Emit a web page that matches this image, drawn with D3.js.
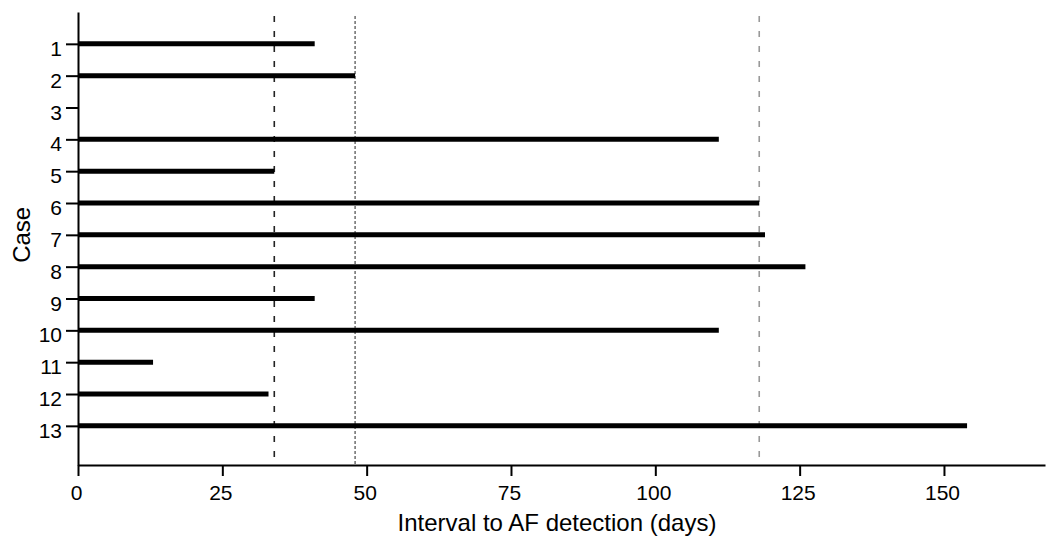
<!DOCTYPE html>
<html>
<head>
<meta charset="utf-8">
<script src="https://cdn.jsdelivr.net/npm/d3@7"></script>
<style>
	body { margin: 0; background: #fff; }
	svg { font-family: "Liberation Sans", Arial, sans-serif; }
</style>
</head>
<body>
<div id="chart"></div>
<script>
// case numbers and interval to AF detection (days)
const cases = [1, 2, 3, 4, 5, 6, 7, 8, 9, 10, 11, 12, 13];
const intervals = [41, 48, 0, 111, 34, 118, 119, 126, 41, 111, 13, 33, 154];
const xTicks = [0, 25, 50, 75, 100, 125, 150];
// reference lines (days)
const refLines = [34, 48, 118];

const width = 1047,
	height = 541;
const margin = { top: 12, right: 2, bottom: 76, left: 78 };

const svg = d3
	.select("#chart")
	.append("svg")
	.attr("width", width)
	.attr("height", height);

const x = d3
	.scaleLinear()
	.domain([0, 167.5])
	.range([margin.left, width - margin.right]);

const y = d3
	.scaleLinear()
	.domain([0, 14.23])
	.range([margin.top, height - margin.bottom]);

const dashStyles = [
	{ color: "#222", dash: "6,9" },
	{ color: "#777", dash: "3,2" },
	{ color: "#999", dash: "6,9" },
];

svg
	.selectAll(".ref")
	.data(refLines)
	.join("line")
	.attr("class", "ref")
	.attr("x1", (d) => x(d))
	.attr("x2", (d) => x(d))
	.attr("y1", 16)
	.attr("y2", y(14.23))
	.attr("stroke", (d, i) => dashStyles[i].color)
	.attr("stroke-width", 1.6)
	.attr("stroke-dasharray", (d, i) => dashStyles[i].dash);

svg
	.selectAll(".bar")
	.data(cases)
	.join("line")
	.attr("class", "bar")
	.attr("x1", x(0))
	.attr("x2", (d, i) => x(intervals[i]))
	.attr("y1", (d) => y(d))
	.attr("y2", (d) => y(d))
	.attr("stroke", "#000")
	.attr("stroke-width", 5);

const xAxis = svg
	.append("g")
	.attr("transform", `translate(0,${y(14.23)})`)
	.call(d3.axisBottom(x).tickValues(xTicks).tickSize(11).tickSizeOuter(0).tickPadding(9));

const yAxis = svg
	.append("g")
	.attr("transform", `translate(${margin.left},0)`)
	.call(d3.axisLeft(y).tickValues(cases).tickFormat(d3.format("d")).tickSize(12).tickSizeOuter(0).tickPadding(4));

[xAxis, yAxis].forEach((g) => {
	g.attr("font-size", null).attr("font-family", null);
	g.select(".domain").attr("stroke", "#000").attr("stroke-width", 2);
	g.selectAll(".tick line").attr("stroke", "#000").attr("stroke-width", 2);
	g.selectAll(".tick text")
		.attr("fill", "#000")
		.style("font-size", "21px");
});
xAxis.selectAll(".tick text").attr("dx", "-2");
yAxis.selectAll(".tick text").attr("dy", "0.55em");

svg
	.append("text")
	.attr("x", 557)
	.attr("y", 531)
	.attr("text-anchor", "middle")
	.style("font-size", "24px")
	.text("Interval to AF detection (days)");

svg
	.append("text")
	.attr("transform", `translate(30,${y(7)}) rotate(-90)`)
	.attr("text-anchor", "middle")
	.style("font-size", "24px")
	.text("Case");
</script>
</body>
</html>
